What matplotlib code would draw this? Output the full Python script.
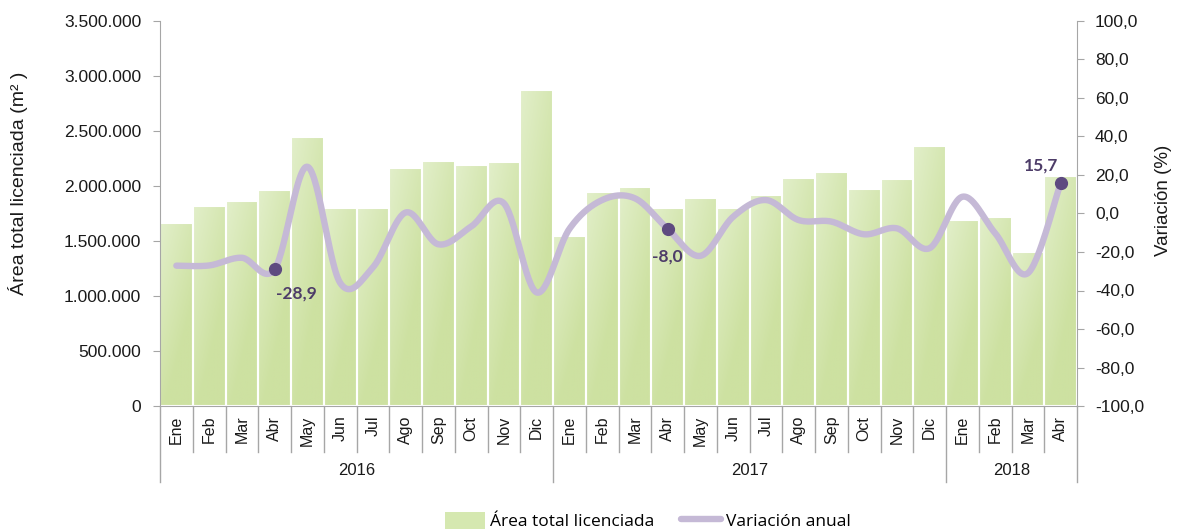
import numpy as np
import matplotlib.pyplot as plt
from matplotlib.colors import to_rgb
from matplotlib.lines import Line2D
from matplotlib.patches import Patch
import matplotlib.transforms as mtransforms

# ---------------- data ----------------
months = ['Ene', 'Feb', 'Mar', 'Abr', 'May', 'Jun', 'Jul', 'Ago', 'Sep', 'Oct', 'Nov', 'Dic',
          'Ene', 'Feb', 'Mar', 'Abr', 'May', 'Jun', 'Jul', 'Ago', 'Sep', 'Oct', 'Nov', 'Dic',
          'Ene', 'Feb', 'Mar', 'Abr']
years = ['2016', '2017', '2018']
months_per_year = [12, 12, 4]

area = [1660000, 1820000, 1860000, 1960000, 2445000, 1800000, 1800000, 2160000, 2230000,
        2190000, 2220000, 2870000,
        1550000, 1950000, 1995000, 1800000, 1895000, 1800000, 1920000, 2075000, 2130000,
        1970000, 2060000, 2360000,
        1690000, 1720000, 1400000, 2090000]

variacion = [-27.1, -27.0, -23.0, -28.9, 24.3, -36.0, -28.0, 0.5, -16.0, -6.8, 5.3, -41.0,
             -8.0, 7.0, 7.9, -8.0, -22.0, -1.7, 7.0, -3.4, -4.2, -10.8, -7.7, -18.0,
             8.7, -10.2, -31.0, 15.7]

labelled = {3: '-28,9', 15: '-8,0', 27: '15,7'}
label_offsets = {3: (22, -24), 15: (0, -28), 27: (-20, 18)}   # pixels


def smooth(x, y, n=30):
    # Catmull-Rom style bezier smoothing like the spreadsheet "smoothed line"
    x = np.asarray(x, float)
    y = np.asarray(y, float)
    px = np.concatenate([[x[0]], x, [x[-1]]])
    py = np.concatenate([[y[0]], y, [y[-1]]])
    xs, ys = [], []
    t = np.linspace(0, 1, n)
    for i in range(1, len(px) - 2):
        p0 = np.array([px[i - 1], py[i - 1]])
        p1 = np.array([px[i], py[i]])
        p2 = np.array([px[i + 1], py[i + 1]])
        p3 = np.array([px[i + 2], py[i + 2]])
        c1 = p1 + (p2 - p0) / 6
        c2 = p2 - (p3 - p1) / 6
        b = ((1 - t) ** 3)[:, None] * p1 + (3 * (1 - t) ** 2 * t)[:, None] * c1 \
            + (3 * (1 - t) * t ** 2)[:, None] * c2 + (t ** 3)[:, None] * p2
        xs.append(b[:, 0])
        ys.append(b[:, 1])
    return np.concatenate(xs), np.concatenate(ys)


plt.rcParams['font.family'] = ['Liberation Sans', 'DejaVu Sans']

fig = plt.figure(figsize=(11.79, 5.29), dpi=100)
ax = fig.add_axes([160 / 1179, 1 - 406 / 529, (1077 - 160) / 1179, 385 / 529])
ax2 = ax.twinx()

x = np.arange(len(area))
bars = ax.bar(x, area, width=1.0, color='#d3e6aa', edgecolor='white', linewidth=1.5, zorder=2)

# gradient fill inside each bar
light = np.array(to_rgb('#e2efca'))
dark = np.array(to_rgb('#cde1a1'))
gx, gy = np.meshgrid(np.linspace(0, 1, 40), np.linspace(0, 1, 80))
tt = np.clip(0.6 * gx + 0.9 * gy, 0, 1)
grad = light[None, None, :] * (1 - tt[..., None]) + dark[None, None, :] * tt[..., None]
for b in bars:
    bx, bw, bh = b.get_x(), b.get_width(), b.get_height()
    im = ax.imshow(grad, extent=[bx, bx + bw, 0, bh], origin='upper', aspect='auto', zorder=2.5)
    im.set_clip_path(b)
for b in bars:
    ax.add_patch(plt.Rectangle((b.get_x(), 0), b.get_width(), b.get_height(),
                               fill=False, edgecolor='white', linewidth=1.5, zorder=3))

ax.set_xlim(-0.5, len(area) - 0.5)
ax.set_ylim(0, 3500000)
ax.set_yticks(np.arange(0, 3500001, 500000))
ax.set_yticklabels([f'{v:,}'.replace(',', '.') for v in range(0, 3500001, 500000)])
ax2.set_ylim(-100, 100)
ax2.set_yticks(np.arange(-100, 101, 20))
ax2.set_yticklabels([f'{v:.1f}'.replace('.', ',') for v in np.arange(-100, 101, 20)])

sx, sy = smooth(x, variacion)
ax2.plot(sx, sy, color='#c5b9d6', linewidth=4.6, solid_capstyle='round', zorder=4)
for i, txt in labelled.items():
    ax2.plot(x[i], variacion[i], 'o', color='#5e4a80', markersize=8.5, zorder=5)
    dx, dy = label_offsets[i]
    ax2.annotate(txt, (x[i], variacion[i]), xytext=(dx * 0.72, dy * 0.72),
                 textcoords='offset points', ha='center', va='center',
                 fontsize=12.5, fontweight='bold', color='#4d3c68',
                 family=['Lato', 'DejaVu Sans'], zorder=6)

gray = '#a6a6a6'
for a in (ax, ax2):
    a.spines['top'].set_visible(False)
    for s in ('left', 'right', 'bottom'):
        a.spines[s].set_color(gray)
        a.spines[s].set_zorder(10)
ax.spines['right'].set_visible(False)
ax2.spines['left'].set_visible(False)
ax2.spines['bottom'].set_visible(False)

ax.tick_params(axis='y', length=5, color=gray, labelsize=12.5, pad=8.5, labelcolor='#1a1a1a')
ax2.tick_params(axis='y', length=5, color=gray, labelsize=12.5, pad=8, labelcolor='#1a1a1a')
ax.set_xticks(x)
ax.set_xticklabels(months, rotation=90, fontsize=11.5, color='#1a1a1a')
ax.tick_params(axis='x', length=0, pad=7)

# multi-level category separators
trans = mtransforms.blended_transform_factory(ax.transData, ax.transAxes)
bounds = np.cumsum([0] + months_per_year)
for k in range(len(area) + 1):
    y_end = -0.197 if k in bounds else -0.119
    ax.plot([k - 0.5, k - 0.5], [0, y_end], transform=trans, color=gray,
            linewidth=1, clip_on=False, zorder=1)
for j, yr in enumerate(years):
    cx = (bounds[j] + bounds[j + 1]) / 2 - 0.5
    ax.text(cx, -0.168, yr, transform=trans, ha='center', va='center',
            fontsize=12, color='#1a1a1a')

fig.text(18 / 1179, 1 - 183 / 529, 'Área total licenciada (m² )', rotation=90,
         ha='center', va='center', fontsize=14, color='#1a1a1a')
fig.text(1163 / 1179, 1 - 200 / 529, 'Variación (%)', rotation=90,
         ha='center', va='center', fontsize=13.5, color='#1a1a1a')

handles = [Patch(facecolor='#d5e8b0', edgecolor='none'),
           Line2D([0], [0], color='#c5b9d6', linewidth=4.6, solid_capstyle='round')]
fig.legend(handles, ['Área total licenciada', 'Variación anual'], ncol=2,
           loc='center', bbox_to_anchor=(648 / 1179, 1 - 521 / 529), frameon=False,
           prop={'family': ['Open Sans', 'DejaVu Sans'], 'size': 12.5},
           handlelength=2.3, handleheight=1.1, handletextpad=0.3, columnspacing=1.5,
           borderpad=0, borderaxespad=0)

fig.savefig('out.png', dpi=100)
